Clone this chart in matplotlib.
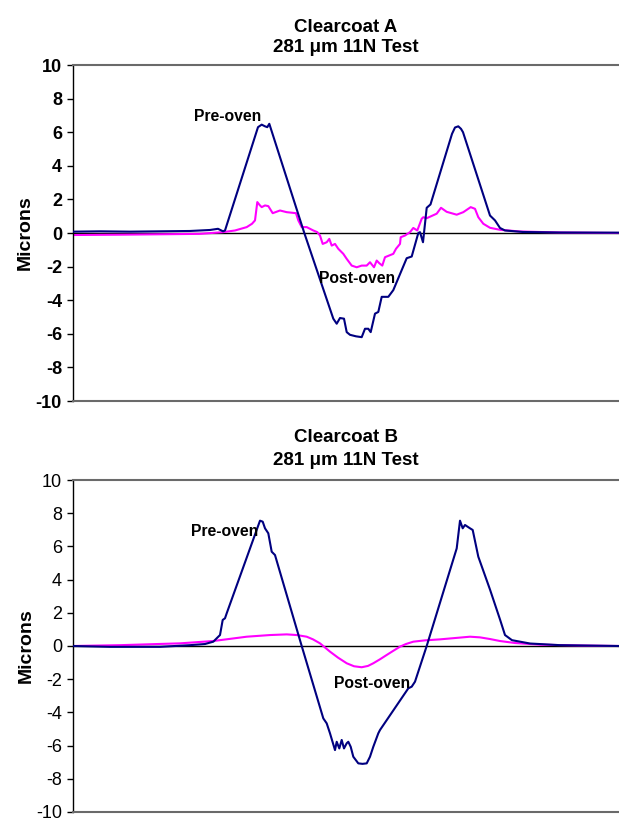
import matplotlib
matplotlib.use("Agg")
import matplotlib.pyplot as plt
import numpy as np

# ---- data (x = scan position, arbitrary units; y = microns) ----
a_pre_x = [0, 27, 57, 87, 117, 137, 145, 150, 152, 185, 188.7, 192, 194.3, 196.3, 231.3,
           260.3, 263.7, 267, 271, 273.7, 277, 283, 288.7, 292, 295.3, 297.7, 302, 305.3,
           308.7, 315.3, 320.3, 333.7, 338.7, 345.3, 347, 350, 353.7, 357.5, 379, 382,
           385.3, 388, 390, 417, 422, 427, 432, 450, 487, 546]
a_pre_y = [0.08, 0.10, 0.08, 0.10, 0.12, 0.18, 0.25, 0.10, 0.15, 6.3, 6.45, 6.35, 6.3, 6.5, 0.0,
           -5.1, -5.4, -5.06, -5.1, -5.9, -6.06, -6.15, -6.2, -5.7, -5.7, -5.9, -4.8, -4.7,
           -3.8, -3.8, -3.4, -1.5, -1.4, 0.0, 0.05, -0.55, 1.5, 1.7, 5.9, 6.28,
           6.35, 6.2, 6.0, 1.04, 0.75, 0.3, 0.15, 0.06, 0.03, 0.02]

a_post_x = [0, 47, 97, 127, 150, 162, 173.7, 179, 182, 184.3, 187, 188.7, 192, 195.3, 199.7,
            207, 213.7, 223, 225.3, 228.7, 233.7, 240.3, 244.3, 247, 249.7, 253.7, 256.3,
            258.7, 262, 265.3, 270.3, 273.7, 278.7, 283.7, 288.7, 293.7, 297, 301, 303.7,
            306.3, 309.3, 312, 320.3, 323, 327, 327.7, 332, 337, 340.3, 344.3, 348.7, 350.3,
            353.7, 363.7, 368, 373.7, 383.7, 390.3, 397.7, 402, 405.3, 410.3, 417, 427, 447,
            487, 546]
a_post_y = [-0.12, -0.10, -0.07, -0.05, 0.05, 0.15, 0.35, 0.55, 0.75, 1.84, 1.64, 1.54, 1.64, 1.6, 1.18,
            1.34, 1.24, 1.18, 0.75, 0.35, 0.35, 0.15, 0.05, -0.15, -0.65, -0.55, -0.35,
            -0.75, -0.65, -0.94, -1.24, -1.54, -1.94, -2.04, -1.94, -1.94, -1.74, -2.04, -1.64,
            -1.8, -1.94, -1.44, -1.24, -0.94, -0.65, -0.25, -0.15, 0.05, 0.3, 0.15, 0.85, 0.94,
            0.88, 1.15, 1.5, 1.26, 1.09, 1.24, 1.54, 1.44, 0.94, 0.55, 0.31, 0.19, 0.09,
            0.03, 0.0]

b_pre_x = [0, 37, 87, 117, 132, 140.3, 145.3, 147, 149.7, 152, 153.7, 187, 189.7, 192, 195.3,
           198.7, 202, 228.7, 250.3, 253.7, 257, 262, 263.7, 266.3, 268.7, 271, 273.7, 275.3,
           277.7, 280.3, 285.3, 289.5, 293.7, 297, 300.3, 305.3, 307, 335.3, 338.7, 342,
           353.7, 383.7, 387, 389.7, 392, 397, 399.7, 405.3, 417, 427, 432, 439, 457, 487, 546]
b_pre_y = [0.0, -0.05, -0.05, 0.05, 0.12, 0.26, 0.56, 0.66, 1.57, 1.67, 1.97, 7.55, 7.49, 7.09, 6.79,
           5.68, 5.48, 0.0, -4.36, -4.66, -5.26, -6.27, -5.77, -6.17, -5.66, -6.17, -5.86, -5.77,
           -6.07, -6.67, -7.07, -7.1, -7.07, -6.67, -6.07, -5.26, -5.06, -2.55, -2.45, -2.15,
           0.0, 5.88, 7.55, 7.09, 7.29, 7.09, 6.99, 5.38, 3.4, 1.6, 0.66, 0.35, 0.15, 0.05, 0.0]

b_post_x = [0, 47, 107, 140.3, 173.7, 197, 213.7, 223.7, 233.7, 240, 247, 257, 265, 273.7, 281,
            288.7, 295, 300.3, 307, 313.7, 320, 327, 333, 340.3, 352, 367, 382, 397, 407, 417,
            427, 442, 467, 507, 546]
b_post_y = [0.0, 0.05, 0.16, 0.3, 0.56, 0.66, 0.7, 0.66, 0.56, 0.4, 0.16, -0.34, -0.7, -1.04, -1.22,
            -1.28, -1.2, -1.04, -0.8, -0.54, -0.3, -0.04, 0.12, 0.26, 0.34, 0.4, 0.48, 0.56, 0.52, 0.42,
            0.3, 0.18, 0.08, 0.03, 0.0]

y_ticks = [-10, -8, -6, -4, -2, 0, 2, 4, 6, 8, 10]
titles = [("Clearcoat A", "281 μm 11N Test"), ("Clearcoat B", "281 μm 11N Test")]
label_pre = "Pre-oven"
label_post = "Post-oven"

NAVY = "#000080"
MAGENTA = "#FF00FF"
FONT = ["Liberation Sans", "DejaVu Sans"]
plt.rcParams["font.family"] = FONT

W, H = 619, 818
fig = plt.figure(figsize=(W / 100, H / 100), dpi=100)

def make_axes(top_px, bottom_px):
    left, right = 73, 619
    return fig.add_axes([left / W, 1 - bottom_px / H, (right - left) / W, (bottom_px - top_px) / H])

ax1 = make_axes(65, 401)
ax2 = make_axes(480, 812)

panels = [
    (ax1, a_pre_x, a_pre_y, a_post_x, a_post_y, "bold", (155, 6.96), (284, -2.72)),
    (ax2, b_pre_x, b_pre_y, b_post_x, b_post_y, "normal", (152, 6.87), (299, -2.23)),
]

for ax, px, py, qx, qy, tw, pre_pos, post_pos in panels:
    ax.axhline(0, color="black", lw=1.0, zorder=1)
    ax.plot(px, py, color=NAVY, lw=1.5, zorder=3)
    ax.plot(qx, qy, color=MAGENTA, lw=1.5, zorder=2)
    ax.set_xlim(0, 546)
    ax.set_ylim(-10, 10)
    ax.set_yticks(y_ticks)
    ax.set_yticklabels([str(t) for t in y_ticks], fontsize=13, fontweight=tw)
    ax.set_xticks([])
    ax.tick_params(axis="y", direction="out", length=4, width=1, pad=4, color="black")
    ax.spines["right"].set_visible(False)
    ax.spines["left"].set_color("black")
    ax.spines["left"].set_linewidth(1.0)
    for s in ("top", "bottom"):
        ax.spines[s].set_color("#6a6a6a")
        ax.spines[s].set_linewidth(1.5)
    ax.set_ylabel("Microns", fontsize=14, fontweight="bold", labelpad=1)
    ax.text(pre_pos[0], pre_pos[1], label_pre, fontsize=11.3, fontweight="bold",
            ha="center", va="center", zorder=5)
    ax.text(post_pos[0], post_pos[1], label_post, fontsize=11.3, fontweight="bold",
            ha="center", va="center", zorder=5)

cx = 346 / W
for (t1, t2), (y1, y2) in zip(titles, [(28, 48), (437, 460)]):
    fig.text(cx, 1 - y1 / H, t1, fontsize=13.5, fontweight="bold", ha="center", va="center")
    fig.text(cx, 1 - y2 / H, t2, fontsize=13.5, fontweight="bold", ha="center", va="center")

fig.savefig("out.png", dpi=100)
